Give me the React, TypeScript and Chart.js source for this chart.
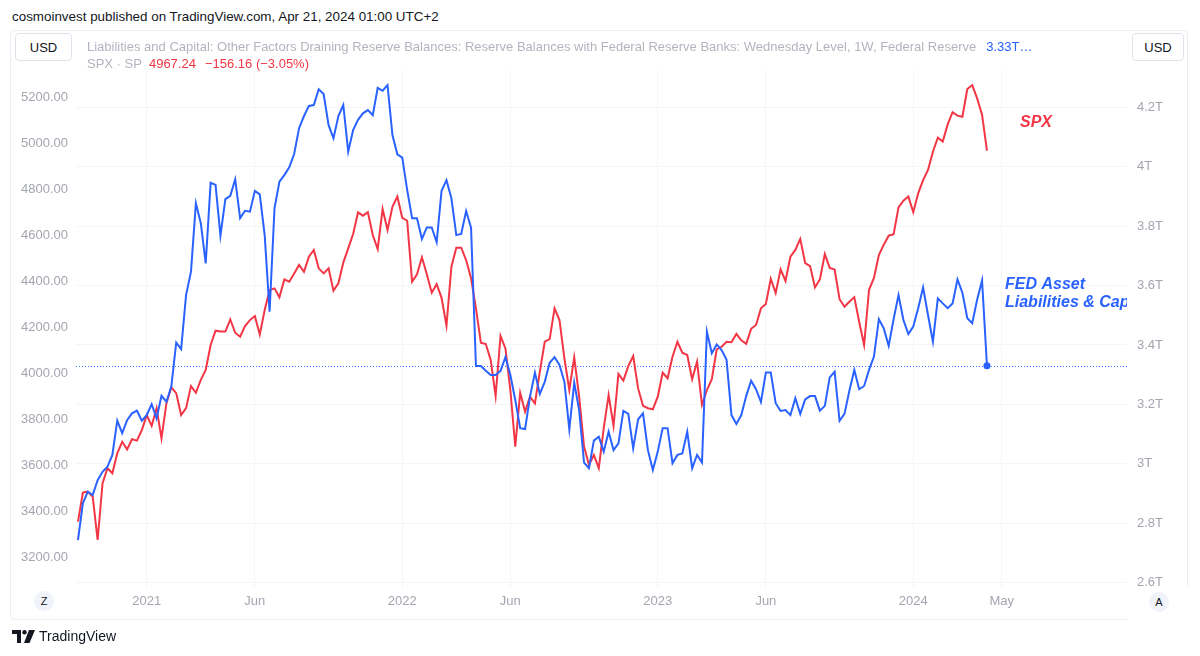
import React, { useEffect, useRef } from "react";
import { Chart, registerables } from "chart.js";

Chart.register(...registerables);

// Weekly bars, first bar week of 2020-09-28, last bar week of 2024-04-15
const FIRST_WEEK = "2020-09-28";

// Reserve Balances with Federal Reserve Banks (trillions USD), right scale
const fedReserveBalancesT = [
  2.743, 2.867, 2.906, 2.895, 2.945, 2.973, 2.990, 3.030, 3.145, 3.103,
  3.147, 3.170, 3.179, 3.145, 3.164, 3.201, 3.153, 3.229, 3.209, 3.260,
  3.408, 3.386, 3.568, 3.647, 3.877, 3.810, 3.675, 3.946, 3.939, 3.768,
  3.891, 3.902, 3.958, 3.827, 3.852, 3.849, 3.919, 3.907, 3.770, 3.512,
  3.860, 3.950, 3.972, 3.998, 4.043, 4.130, 4.171, 4.205, 4.208, 4.261,
  4.245, 4.141, 4.096, 4.171, 4.208, 4.051, 4.124, 4.158, 4.180, 4.191,
  4.174, 4.266, 4.256, 4.275, 4.107, 4.042, 4.031, 3.922, 3.827, 3.827,
  3.757, 3.796, 3.796, 3.746, 3.919, 3.955, 3.894, 3.770, 3.774, 3.851,
  3.795, 3.329, 3.329, 3.313, 3.299, 3.299, 3.313, 3.359, 3.299, 3.215,
  3.120, 3.117, 3.226, 3.307, 3.235, 3.276, 3.340, 3.359, 3.333, 3.276,
  3.116, 3.273, 3.181, 3.004, 2.985, 3.078, 3.091, 3.041, 3.108, 3.046,
  3.069, 3.178, 3.168, 3.052, 3.150, 3.170, 3.046, 2.979, 3.041, 3.120,
  3.120, 3.002, 3.030, 3.035, 3.108, 2.985, 3.030, 3.004, 3.445, 3.372,
  3.402, 3.383, 3.350, 3.164, 3.134, 3.164, 3.228, 3.280, 3.251, 3.208,
  3.307, 3.307, 3.204, 3.178, 3.181, 3.164, 3.221, 3.168, 3.217, 3.228,
  3.228, 3.179, 3.195, 3.291, 3.310, 3.145, 3.168, 3.246, 3.316, 3.251,
  3.262, 3.316, 3.361, 3.487, 3.456, 3.397, 3.487, 3.568, 3.484, 3.437,
  3.462, 3.524, 3.594, 3.501, 3.411, 3.557, 3.540, 3.524, 3.540, 3.621,
  3.576, 3.490, 3.473, 3.552, 3.617, 3.330,
];

// S&P 500 weekly close, left scale
const spxClose = [
  3354, 3480, 3484, 3462, 3274, 3520, 3586, 3564, 3651, 3701,
  3668, 3712, 3706, 3752, 3817, 3770, 3847, 3716, 3868, 3938,
  3912, 3817, 3847, 3943, 3914, 3970, 4013, 4122, 4184, 4180,
  4180, 4233, 4175, 4158, 4204, 4230, 4248, 4167, 4274, 4361,
  4368, 4329, 4407, 4397, 4433, 4470, 4440, 4506, 4535, 4455,
  4433, 4455, 4358, 4390, 4480, 4542, 4604, 4698, 4684, 4699,
  4600, 4539, 4713, 4622, 4723, 4767, 4675, 4662, 4397, 4429,
  4503, 4429, 4349, 4386, 4327, 4206, 4462, 4545, 4545, 4491,
  4412, 4281, 4132, 4126, 4057, 3900, 4161, 4107, 3926, 3680,
  3914, 3832, 3897, 3868, 4006, 4136, 4147, 4281, 4230, 4064,
  3926, 4068, 3897, 3680, 3600, 3643, 3586, 3760, 3904, 3770,
  3996, 3967, 4030, 4074, 3933, 3857, 3847, 3842, 3897, 4001,
  3977, 4071, 4136, 4088, 4078, 3973, 4049, 3861, 3926, 3973,
  4103, 4114, 4136, 4134, 4170, 4142, 4127, 4192, 4209, 4281,
  4300, 4409, 4348, 4451, 4400, 4506, 4535, 4583, 4478, 4465,
  4372, 4407, 4517, 4457, 4450, 4321, 4288, 4310, 4330, 4222,
  4122, 4362, 4413, 4513, 4558, 4597, 4603, 4720, 4749, 4767,
  4699, 4781, 4839, 4883, 4962, 5023, 5006, 5081, 5134, 5119,
  5114, 5235, 5252, 5194, 5123.40, 4967.24,
];

// Time axis: week index of each label, and its text
const timeTickWeeks = [14, 36, 66, 88, 118, 140, 170, 188];
const timeTickLabels = ["2021", "Jun", "2022", "Jun", "2023", "Jun", "2024", "May"];

const spxTicks = [3200, 3400, 3600, 3800, 4000, 4200, 4400, 4600, 4800, 5000, 5200];
const fedTicks = [2.6, 2.8, 3.0, 3.2, 3.4, 3.6, 3.8, 4.0, 4.2];

const BLUE = "#2962ff";
const RED = "#f23645";
const AXIS_TEXT = "#a3a6af";
const FONT = "'Liberation Sans', Arial, sans-serif";

export default function App() {
  const canvasRef = useRef<HTMLCanvasElement | null>(null);

  useEffect(() => {
    const canvas = canvasRef.current;
    if (!canvas) return;
    const lastIdx = fedReserveBalancesT.length - 1;

    const overlay = {
      id: "overlay",
      beforeDatasetsDraw(chart: any) {
        const { ctx, chartArea: a, scales } = chart;
        const y = Math.round(scales.y2.getPixelForValue(fedReserveBalancesT[lastIdx])) + 0.5;
        ctx.save();
        ctx.strokeStyle = "rgba(41,98,255,0.85)";
        ctx.lineWidth = 1;
        ctx.setLineDash([1, 2]);
        ctx.beginPath();
        ctx.moveTo(a.left, y);
        ctx.lineTo(a.right, y);
        ctx.stroke();
        ctx.restore();
      },
      afterDatasetsDraw(chart: any) {
        const { ctx, chartArea: a } = chart;
        ctx.save();
        ctx.beginPath();
        ctx.rect(a.left, a.top, a.right - a.left, a.bottom - a.top);
        ctx.clip();
        ctx.font = `italic bold 16px ${FONT}`;
        ctx.textBaseline = "middle";
        ctx.textAlign = "left";
        ctx.fillStyle = RED;
        ctx.fillText("SPX", a.left + 944, 93);
        ctx.fillStyle = BLUE;
        ctx.fillText("FED Asset", a.left + 929, 255);
        ctx.fillText("Liabilities & Capital", a.left + 929, 272.5);
        ctx.restore();
      },
      afterDraw(chart: any) {
        const { ctx, chartArea: a, width, height } = chart;
        ctx.save();
        ctx.fillStyle = "#ffffff";
        ctx.fillRect(a.right + 1, a.bottom - 1, width - a.right - 1, height - a.bottom + 1);
        ctx.restore();
      },
    };

    const chart = new Chart(canvas, {
      type: "line",
      data: {
        datasets: [
          {
            label: "FED Reserve Balances",
            data: fedReserveBalancesT.map((v, i) => ({ x: i, y: v })),
            yAxisID: "y2",
            borderColor: BLUE,
            backgroundColor: BLUE,
            borderWidth: 2,
            pointRadius: (c: any) => (c.dataIndex === lastIdx ? 3.5 : 0),
            pointBorderWidth: 0,
            tension: 0,
          },
          {
            label: "SPX",
            data: spxClose.map((v, i) => ({ x: i, y: v })),
            yAxisID: "y",
            borderColor: RED,
            backgroundColor: RED,
            borderWidth: 2,
            pointRadius: 0,
            tension: 0,
          },
        ],
      },
      options: {
        animation: false,
        responsive: false,
        maintainAspectRatio: false,
        layout: { padding: { top: 40, left: 0, right: 0, bottom: 0 } },
        plugins: { legend: { display: false }, tooltip: { enabled: false } },
        scales: {
          x: {
            type: "linear",
            min: -0.4,
            max: 213.5,
            afterBuildTicks: (s: any) => {
              s.ticks = timeTickWeeks.map((v) => ({ value: v }));
            },
            afterFit: (s: any) => {
              s.height = 32;
            },
            ticks: {
              autoSkip: false,
              maxRotation: 0,
              padding: 6,
              color: AXIS_TEXT,
              font: { family: FONT, size: 13 },
              callback: (_v: any, i: number) => timeTickLabels[i],
            },
            grid: { color: "#f4f5f8", drawTicks: false },
            border: { display: false },
          },
          y: {
            position: "left",
            min: 3065.2,
            max: 5317.4,
            afterBuildTicks: (s: any) => {
              s.ticks = spxTicks.map((v) => ({ value: v }));
            },
            afterFit: (s: any) => {
              s.width = 66;
            },
            ticks: {
              padding: 8,
              color: AXIS_TEXT,
              font: { family: FONT, size: 13 },
              callback: (v: any) => Number(v).toFixed(2),
            },
            grid: { display: false, drawTicks: false },
            border: { display: false },
          },
          y2: {
            position: "right",
            min: 2.5818,
            max: 4.3259,
            afterBuildTicks: (s: any) => {
              s.ticks = fedTicks.map((v) => ({ value: v }));
            },
            afterFit: (s: any) => {
              s.width = 61;
            },
            ticks: {
              padding: 10,
              color: AXIS_TEXT,
              font: { family: FONT, size: 13 },
              callback: (v: any) => `${Math.round(Number(v) * 10) / 10}T`,
            },
            grid: { color: "#f4f5f8", drawTicks: false },
            border: { display: false },
          },
        },
      },
      plugins: [overlay],
    });

    return () => chart.destroy();
  }, []);

  const box: React.CSSProperties = {
    position: "absolute",
    height: 28,
    border: "1px solid #e0e3eb",
    borderRadius: 4,
    boxSizing: "border-box",
    display: "flex",
    alignItems: "center",
    justifyContent: "center",
    fontSize: 13,
    color: "#131722",
    background: "#fff",
  };
  const circle: React.CSSProperties = {
    position: "absolute",
    width: 20,
    height: 20,
    borderRadius: 10,
    background: "#f0f3fa",
    display: "flex",
    alignItems: "center",
    justifyContent: "center",
    fontSize: 11,
    color: "#131722",
  };

  return (
    <div
      style={{
        position: "absolute",
        left: 0,
        top: 0,
        width: 1200,
        height: 656,
        background: "#fff",
        fontFamily: FONT,
        overflow: "hidden",
      }}
      data-first-week={FIRST_WEEK}
    >
      <div style={{ position: "absolute", left: 12, top: 9, fontSize: 13.4, color: "#131722", whiteSpace: "nowrap" }}>
        cosmoinvest published on TradingView.com, Apr 21, 2024 01:00 UTC+2
      </div>
      <div
        style={{
          position: "absolute",
          left: 10,
          top: 30,
          width: 1178,
          height: 590,
          border: "1px solid #eceef2",
          borderRadius: 4,
          boxSizing: "border-box",
        }}
      />
      <canvas ref={canvasRef} width={1178} height={590} style={{ position: "absolute", left: 10, top: 30, width: 1178, height: 590 }} />
      <div style={{ ...box, left: 15, top: 33, width: 57 }}>USD</div>
      <div style={{ ...box, left: 1132, top: 33, width: 52 }}>USD</div>
      <div style={{ position: "absolute", left: 87, top: 39, fontSize: 13, color: "#b2b5be", whiteSpace: "nowrap" }}>
        Liabilities and Capital: Other Factors Draining Reserve Balances: Reserve Balances with Federal Reserve Banks: Wednesday Level, 1W, Federal Reserve
        <span style={{ color: BLUE, marginLeft: 10 }}>3.33T…</span>
      </div>
      <div style={{ position: "absolute", left: 87, top: 56, fontSize: 13, color: "#b2b5be", whiteSpace: "nowrap" }}>
        SPX · SP
        <span style={{ color: RED, marginLeft: 7 }}>4967.24</span>
        <span style={{ color: RED, marginLeft: 9 }}>−156.16 (−3.05%)</span>
      </div>
      <div style={{ ...circle, left: 34, top: 591 }}>Z</div>
      <div style={{ ...circle, left: 1149, top: 592 }}>A</div>
      <div style={{ position: "absolute", left: 12, top: 628, display: "flex", alignItems: "center" }}>
        <svg width="23" height="13" viewBox="0 0 23 13">
          <path d="M0 0 H9 V13 H5 V4 H0 Z" fill="#131722" />
          <circle cx="12.5" cy="2.2" r="2.2" fill="#131722" />
          <path d="M17 0 H23 L17.5 13 H12 Z" fill="#131722" />
        </svg>
        <span style={{ marginLeft: 4, fontSize: 14, color: "#131722" }}>TradingView</span>
      </div>
    </div>
  );
}
